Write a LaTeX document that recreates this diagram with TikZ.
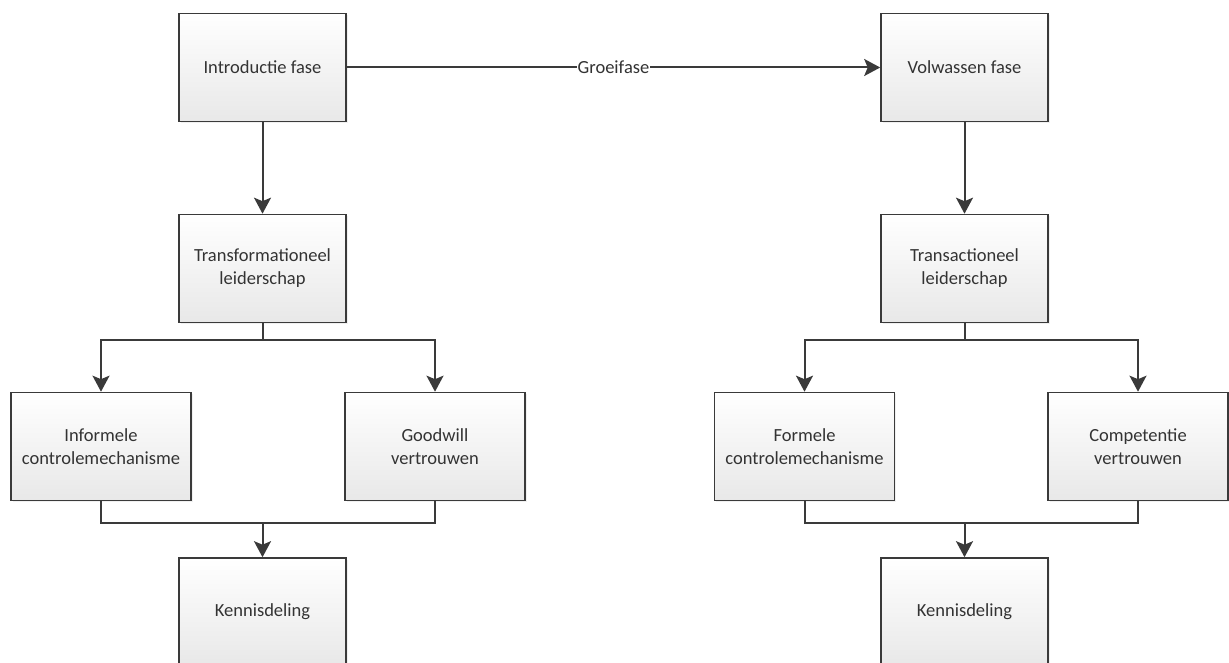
\documentclass[tikz,border=0pt]{standalone}
\usepackage{fontspec}
\setmainfont{Carlito}
\usetikzlibrary{arrows.meta,shadows}
\definecolor{lineC}{HTML}{3A3A3A}
\definecolor{textC}{HTML}{333333}
\definecolor{boxBot}{HTML}{E8E8E8}
\tikzset{
  box/.style={draw=lineC, line width=1.6pt, shading=axis, top color=white, bottom color=boxBot,
    minimum height=108pt, align=center, text=textC, inner sep=2pt,
    font=\fontsize{18.5}{23}\selectfont,
    drop shadow={opacity=0.12, shadow xshift=1.5pt, shadow yshift=-1.5pt}},
  mainbox/.style={box, minimum width=167pt},
  subbox/.style={box, minimum width=180pt},
  conn/.style={draw=lineC, line width=2pt},
  arr/.style={conn, -{Stealth[width=17pt,length=16pt,inset=3.5pt]}},
}
\begin{document}
\begin{tikzpicture}[x=1pt,y=-1pt]
\useasboundingbox (0,0) rectangle (1229,663);
\clip (0,0) rectangle (1229,663);
% left column
\node[mainbox] (intro) at (262.5,67.5) {Introductie fase};
\node[mainbox] (trf) at (262.5,268.5) {Transformationeel\\leiderschap};
\node[subbox] (inf) at (101,446.5) {Informele\\controlemechanisme};
\node[subbox] (good) at (435,446.5) {Goodwill\\vertrouwen};
\node[mainbox] (kenL) at (262.5,612) {Kennisdeling};
% right column
\node[mainbox] (vol) at (964.5,67.5) {Volwassen fase};
\node[mainbox] (trc) at (964.5,268.5) {Transactioneel\\leiderschap};
\node[subbox] (form) at (804.5,446.5) {Formele\\controlemechanisme};
\node[subbox] (comp) at (1138,446.5) {Competentie\\vertrouwen};
\node[mainbox] (kenR) at (964.5,612) {Kennisdeling};
% connectors
\draw[arr] (intro.east) -- node[fill=white, inner sep=1pt, text=textC, font=\fontsize{18.5}{23}\selectfont] (gl) {Groeifase} (vol.west);
\draw[arr] (intro.south) -- (trf.north);
\draw[arr] (vol.south) -- (trc.north);
% left branches
\draw[arr] (trf.south) -- (trf.south |- 0,340) -| (inf.north);
\draw[arr] (trf.south) -- (trf.south |- 0,340) -| (good.north);
\draw[conn] (inf.south) |- (kenL.north |- 0,523);
\draw[conn] (good.south) |- (kenL.north |- 0,523);
\draw[arr] (kenL.north |- 0,523) -- (kenL.north);
% right branches
\draw[arr] (trc.south) -- (trc.south |- 0,340) -| (form.north);
\draw[arr] (trc.south) -- (trc.south |- 0,340) -| (comp.north);
\draw[conn] (form.south) |- (kenR.north |- 0,523);
\draw[conn] (comp.south) |- (kenR.north |- 0,523);
\draw[arr] (kenR.north |- 0,523) -- (kenR.north);
\end{tikzpicture}
\end{document}
